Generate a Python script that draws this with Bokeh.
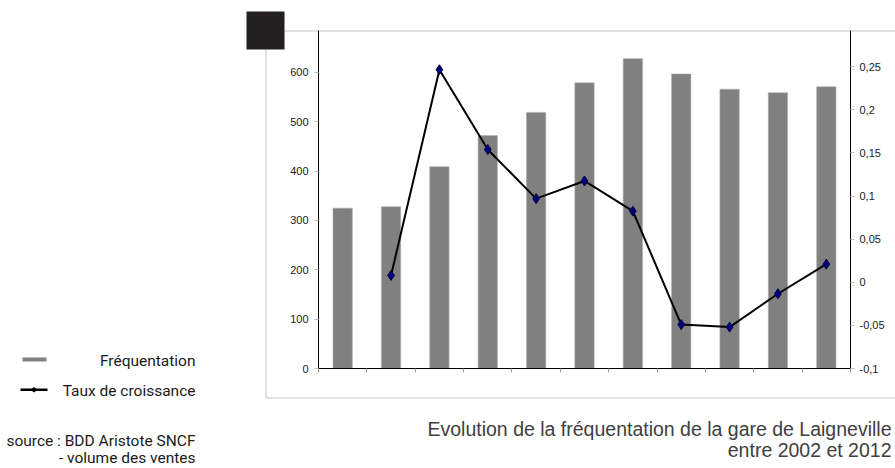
from bokeh.plotting import figure
from bokeh.models import Range1d, LinearAxis, FixedTicker, Label, BoxAnnotation, PolyAnnotation
from bokeh.embed import file_html
from bokeh.resources import INLINE

# ---------------- data ----------------
years = [2002, 2003, 2004, 2005, 2006, 2007, 2008, 2009, 2010, 2011, 2012]
frequentation = [325, 328, 409, 472, 519, 579, 628, 597, 566, 559, 571]
growth_years = [2003, 2004, 2005, 2006, 2007, 2008, 2009, 2010, 2011, 2012]
taux_croissance = [0.008, 0.2465, 0.154, 0.097, 0.1175, 0.0825, -0.049, -0.052, -0.0133, 0.021]

left_ticks = [0, 100, 200, 300, 400, 500, 600]
right_ticks = [-0.1, -0.05, 0, 0.05, 0.1, 0.15, 0.2, 0.25]
right_tick_labels = ["-0,1", "-0,05", "0", "0,05", "0,1", "0,15", "0,2", "0,25"]
legend_labels = ["Fréquentation", "Taux de croissance"]
source_lines = ["source : BDD Aristote SNCF", "- volume des ventes"]
title_lines = ["Evolution de la fréquentation de la gare de Laigneville", "entre 2002 et 2012"]

# ---------------- layout (pixels) ----------------
W, H = 895, 468
PL, PR, PT, PB = 318, 850, 30, 368        # inner plot area on the canvas
X0, X1 = years[0] - 0.5, years[-1] + 0.5  # category extent
L0, L1 = 0, 685                           # left axis extent
R0, R1 = -0.1, 0.292                      # right axis extent

def extend(a, b, lo_px, hi_px, lo_pad, hi_pad):
    per_px = (b - a) / (hi_px - lo_px)
    return a - lo_pad * per_px, b + hi_pad * per_px

xs_, xe_ = extend(X0, X1, PL, PR, PL, W - PR)
ls_, le_ = extend(L0, L1, PT, PB, H - PB, PT)
rs_, re_ = extend(R0, R1, PT, PB, H - PB, PT)

def sx(px):
    return px

def sy(py):
    return H - py

TICK_FONT = "Liberation Sans"
NARROW_FONT = "Roboto"

p = figure(width=W, height=H, output_backend="svg", toolbar_location=None,
           title=None, x_axis_location=None, y_axis_location=None,
           x_range=Range1d(xs_, xe_), y_range=Range1d(ls_, le_),
           min_border=0, min_border_left=0, min_border_right=0,
           min_border_top=0, min_border_bottom=0)
p.outline_line_color = None
p.grid.visible = False
p.background_fill_color = "white"
p.border_fill_color = "white"
p.extra_y_ranges = {"taux": Range1d(rs_, re_)}

def style_axis(a, tick_color="#c0c0c0", standoff=6):
    a.axis_line_color = "black"
    a.axis_line_width = 1
    a.major_tick_line_color = tick_color
    a.major_tick_out = 4
    a.major_tick_in = 0
    a.minor_tick_line_color = None
    a.major_label_standoff = standoff
    a.major_label_text_font = TICK_FONT
    a.major_label_text_font_size = "11px"
    a.major_label_text_color = "#1a1a1a"

# left axis
ya = LinearAxis(ticker=FixedTicker(ticks=left_ticks), fixed_location=X0, bounds=(L0, L1))
style_axis(ya, standoff=6)
p.add_layout(ya, "left")

# right axis
ra = LinearAxis(y_range_name="taux", ticker=FixedTicker(ticks=right_ticks),
                major_label_overrides=dict(zip(right_ticks, right_tick_labels)),
                fixed_location=X1, bounds=(R0, R1))
style_axis(ra, standoff=5)
p.add_layout(ra, "right")

# bottom axis (category separators, no labels)
sep_ticks = [y - 0.5 for y in years] + [years[-1] + 0.5]
xa = LinearAxis(ticker=FixedTicker(ticks=sep_ticks), fixed_location=L0, bounds=(X0, X1),
                major_label_overrides={t: "" for t in sep_ticks})
style_axis(xa, tick_color="#a0a0a0")
p.add_layout(xa, "below")

# bars
p.vbar(x=years, top=frequentation, width=0.4, fill_color="#808080",
       line_color="#b0b0b0", line_width=0.6)

# growth line
p.line(growth_years, taux_croissance, y_range_name="taux", line_color="black", line_width=2)
p.scatter(growth_years, taux_croissance, y_range_name="taux", marker="diamond", size=10,
          fill_color="#000080", line_color="#000040", line_width=1)

def screen_box(left, right, top, bottom, **kw):
    return BoxAnnotation(left=sx(left), right=sx(right), top=sy(top), bottom=sy(bottom),
                         left_units="screen", right_units="screen",
                         top_units="screen", bottom_units="screen", **kw)

# outer frame and corner square
p.add_layout(screen_box(265.5, 905, 30.5, 397.5, fill_alpha=0, line_color="#3a3a3a", line_width=1))
p.add_layout(screen_box(246, 284, 11, 49, fill_color="#231f20", fill_alpha=1, line_color=None))

# legend symbols
p.add_layout(screen_box(22, 46, 357, 361, fill_color="#808080", fill_alpha=1, line_color=None))
p.add_layout(screen_box(20, 47, 388, 390.5, fill_color="black", fill_alpha=1, line_color=None))
p.add_layout(PolyAnnotation(xs=[sx(30), sx(33.5), sx(37), sx(33.5)],
                            ys=[sy(389.2), sy(386.5), sy(389.2), sy(392)],
                            xs_units="screen", ys_units="screen",
                            fill_color="black", fill_alpha=1, line_color=None))

def screen_label(txt, x, y, font, size, color):
    return Label(x=sx(x), y=sy(y), x_units="screen", y_units="screen",
                 text=txt, text_align="right", text_baseline="middle",
                 text_font=font, text_font_size=size, text_color=color)

for txt, ypos in zip(legend_labels, [360, 390]):
    p.add_layout(screen_label(txt, 195, ypos, NARROW_FONT, "15.5px", "#1a1a1a"))

for txt, ypos in zip(source_lines, [440, 457]):
    p.add_layout(screen_label(txt, 195, ypos, NARROW_FONT, "15.5px", "#1a1a1a"))

for txt, ypos in zip(title_lines, [428, 449]):
    p.add_layout(screen_label(txt, 891, ypos, "Liberation Sans", "19.5px", "#404040"))

open("out.html", "w").write(file_html(p, INLINE))
